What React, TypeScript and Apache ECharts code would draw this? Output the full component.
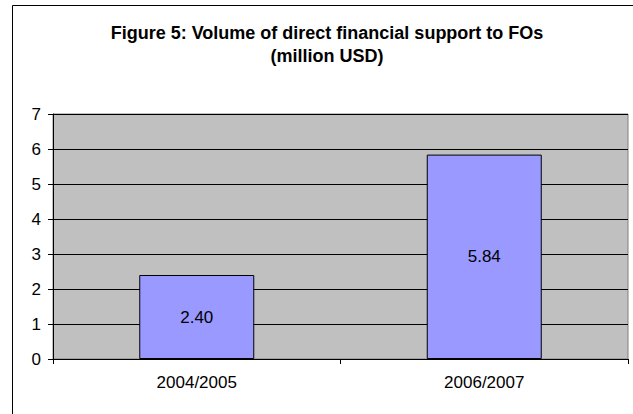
import React, { useEffect, useRef } from "react";
import * as echarts from "echarts";

const categories = ["2004/2005", "2006/2007"];
const values = [2.4, 5.84];
const yTicks = { min: 0, max: 7, interval: 1 };
const titleText = "Figure 5: Volume of direct financial support to FOs\n(million USD)";

const FONT = "Liberation Sans, Arial, sans-serif";

export default function App() {
  const ref = useRef<HTMLDivElement>(null);
  useEffect(() => {
    const chart = echarts.init(ref.current!, null, { renderer: "svg" });
    chart.setOption({
      animation: false,
      backgroundColor: "#ffffff",
      title: {
        text: titleText,
        left: 322,
        top: 16,
        textAlign: "center",
        textStyle: {
          fontFamily: FONT,
          fontSize: 18,
          fontWeight: "bold",
          color: "#000",
          lineHeight: 23,
        },
      },
      graphic: [
        {
          type: "rect",
          shape: { x: 12.5, y: 5.5, width: 640, height: 420 },
          style: { fill: "none", stroke: "#000", lineWidth: 1 },
          silent: true,
          z: 100,
        },
      ],
      grid: {
        left: 53,
        right: 5,
        top: 114,
        bottom: 55,
        show: true,
        backgroundColor: "#C0C0C0",
        borderColor: "#808080",
        borderWidth: 1,
      },
      xAxis: {
        type: "category",
        data: categories,
        boundaryGap: true,
        axisLine: { show: true, lineStyle: { color: "#000", width: 1 } },
        axisTick: { show: true, alignWithLabel: false, length: 5, lineStyle: { color: "#000" } },
        axisLabel: {
          color: "#000",
          fontFamily: FONT,
          fontSize: 17,
          margin: 15,
        },
        splitLine: { show: false },
      },
      yAxis: {
        type: "value",
        min: yTicks.min,
        max: yTicks.max,
        interval: yTicks.interval,
        axisLine: { show: true, lineStyle: { color: "#000", width: 1 } },
        axisTick: { show: true, length: 5, lineStyle: { color: "#000" } },
        axisLabel: {
          color: "#000",
          fontFamily: FONT,
          fontSize: 17,
          margin: 12,
        },
        splitLine: { show: true, lineStyle: { color: "#000", width: 1 } },
      },
      series: [
        {
          type: "bar",
          data: values,
          barWidth: "40%",
          itemStyle: { color: "#9999FF", borderColor: "#000", borderWidth: 1 },
          label: {
            show: true,
            position: "inside",
            color: "#000",
            fontFamily: FONT,
            fontSize: 17,
            formatter: (p: any) => Number(p.value).toFixed(2),
          },
        },
      ],
    });
    return () => chart.dispose();
  }, []);
  return (
    <div
      ref={ref}
      style={{ position: "absolute", left: 0, top: 0, width: 633, height: 414 }}
    />
  );
}
